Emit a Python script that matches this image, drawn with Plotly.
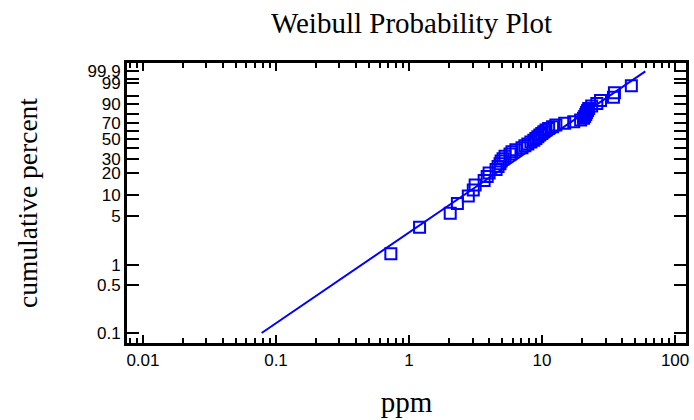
import numpy as np
import plotly.graph_objects as go

# ---- data ----
ppm = [0.73, 1.20, 2.04, 2.31, 2.79, 3.04, 3.14, 3.67, 3.87, 4.00,
       4.51, 4.67, 4.83, 4.92, 5.09, 5.27, 5.74, 5.94, 6.36, 7.06,
       7.43, 7.82, 8.24, 8.67, 8.98, 9.29, 9.62, 9.95, 10.3, 10.7,
       11.2, 12.0, 12.7, 14.8, 17.3, 19.5, 20.5, 20.9, 21.3, 21.6,
       22.0, 22.4, 23.6, 25.8, 27.5, 34.4, 35.0, 46.9]
cum_pct = [1.45, 3.51, 5.58, 7.64, 9.71, 11.78, 13.84, 15.91, 17.98, 20.04,
           22.11, 24.17, 26.24, 28.31, 30.37, 32.44, 34.50, 36.57, 38.64, 40.70,
           42.77, 44.83, 46.90, 48.97, 51.03, 53.10, 55.17, 57.23, 59.30, 61.36,
           63.43, 65.50, 67.56, 69.63, 71.69, 73.76, 75.83, 77.89, 79.96, 82.02,
           84.09, 86.16, 88.22, 90.29, 92.36, 94.42, 96.49, 98.55]
fit_ppm = [0.078, 59.7]
fit_pct = [0.1, 99.9]

ytick_pct = [0.1, 0.5, 1, 5, 10, 20, 30, 40, 50, 60, 70, 80, 90, 95, 99, 99.5, 99.9]
ytick_txt = ["0.1", "0.5", "1", "5", "10", "20", "30", "", "50", "", "70", "", "90", "", "99", "", "99.9"]
xtick_vals = [0.01, 0.1, 1, 10, 100]
xtick_txt = ["0.01", "0.1", "1", "10", "100"]


def weib(p):
    p = np.asarray(p, dtype=float) / 100.0
    return np.log(-np.log(1.0 - p))


xminor = [m * 10.0 ** e for e in range(-3, 3) for m in range(2, 10)]

blue = "#0000FF"
serif = "Liberation Serif, Times New Roman, serif"
fig = go.Figure()
fig.add_trace(go.Scatter(x=fit_ppm, y=weib(fit_pct), mode="lines",
                         line=dict(color=blue, width=2), hoverinfo="skip"))
fig.add_trace(go.Scatter(x=ppm, y=weib(cum_pct), mode="markers",
                         marker=dict(symbol="square-open", size=11, color=blue,
                                     line=dict(color=blue, width=2))))

axis_common = dict(showline=True, linecolor="black", linewidth=3, mirror="allticks",
                   ticks="inside", tickcolor="black", showgrid=False, zeroline=False,
                   tickfont=dict(family="Liberation Sans, Arial, sans-serif", size=17, color="black"))

fig.update_xaxes(type="log", range=[-2.12, 2.082], tickmode="array",
                 tickvals=xtick_vals, ticktext=xtick_txt, ticklen=8, tickwidth=2,
                 minor=dict(ticks="inside", tickmode="array", tickvals=xminor,
                            ticklen=5, tickwidth=2, tickcolor="black", showgrid=False),
                 title=dict(text="ppm", standoff=23,
                            font=dict(family=serif, size=29, color="black")),
                 **axis_common)
fig.update_yaxes(range=[-7.245, 2.215], tickmode="array",
                 tickvals=list(weib(ytick_pct)), ticktext=ytick_txt, ticklen=12, tickwidth=2,
                 title=dict(text="cumulative percent", standoff=42,
                            font=dict(family=serif, size=27.5, color="black")),
                 **axis_common)

fig.update_layout(
    width=694, height=420,
    margin=dict(l=127, r=5, t=63, b=77),
    paper_bgcolor="white", plot_bgcolor="white",
    showlegend=False,
    title=dict(text="Weibull Probability Plot", x=0.509, xref="paper", xanchor="center",
               y=0.945, yanchor="middle",
               font=dict(family=serif, size=29, color="black")),
)

fig.write_html("out.html")
